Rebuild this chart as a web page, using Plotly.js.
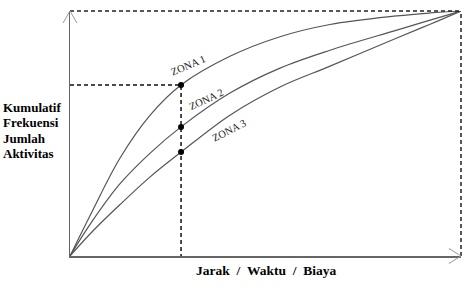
<!DOCTYPE html>
<html><head><meta charset="utf-8">
<script src="https://cdn.plot.ly/plotly-3.0.1.min.js"></script>
<style>html,body{margin:0;padding:0;background:#fff}#chart{width:474px;height:295px}</style>
</head><body><div id="chart"></div>
<script>
// Data (arbitrary 0–100 units on both axes)
const xValues = [0, 5.6, 12.8, 20.5, 28.4, 40.9, 53.7, 66.5, 83.6, 92.1, 100];
const zona1   = [0, 18.0, 40.0, 57.5, 69.8, 81.5, 89.5, 94.5, 98.0, 99.2, 100];
const zona2   = [0, 14.0, 29.5, 42.0, 52.7, 66.5, 76.7, 84.0, 92.2, 96.3, 100];
const zona3   = [0,  9.8, 21.0, 32.3, 42.4, 57.5, 69.0, 77.5, 89.0, 94.6, 100];
const zoneNames = ['ZONA 1', 'ZONA 2', 'ZONA 3'];
const guideX = 28.4;
const yTitleLines = ['Kumulatif', 'Frekuensi', 'Jumlah', 'Aktivitas'];
const xTitle = 'Jarak\u00a0\u00a0/\u00a0\u00a0Waktu\u00a0\u00a0/\u00a0\u00a0Biaya';

const series = [zona1, zona2, zona3];
const gi = xValues.indexOf(guideX);
const guideY = series.map(s => s[gi]);

const curveStyle = {color: '#555', width: 1.2, shape: 'spline', smoothing: 1};
const traces = series.map((s, i) => ({
  type: 'scatter', mode: 'lines', x: xValues, y: s, name: zoneNames[i],
  line: curveStyle, hoverinfo: 'skip', cliponaxis: false
}));
traces.push({
  type: 'scatter', mode: 'lines', x: [0, guideX, guideX], y: [guideY[0], guideY[0], 0],
  line: {color: '#111', width: 1.5, dash: '4px,3px'}, hoverinfo: 'skip', cliponaxis: false
});
traces.push({
  type: 'scatter', mode: 'markers', x: guideY.map(() => guideX), y: guideY,
  marker: {color: '#000', size: 6}, hoverinfo: 'skip', cliponaxis: false
});

const serif = 'Liberation Serif, Times New Roman, serif';
const annotations = [];
const zoneLabelPos = [[30.2, 77.8, -23], [34.8, 63.9, -25], [40.7, 51.2, -27]];
zoneNames.forEach((n, i) => annotations.push({
  x: zoneLabelPos[i][0], y: zoneLabelPos[i][1], xref: 'x', yref: 'y', text: n,
  showarrow: false, textangle: zoneLabelPos[i][2],
  font: {family: serif, size: 10.5, color: '#222'}
}));
yTitleLines.forEach((t, i) => annotations.push({
  x: -0.176, y: (256 - (107 + i * 15.5)) / 245, xref: 'paper', yref: 'paper',
  xanchor: 'left', yanchor: 'middle', showarrow: false, text: '<b>' + t + '</b>',
  font: {family: serif, size: 13, color: '#000'}
}));
annotations.push({
  x: 0.503, y: -0.061, xref: 'paper', yref: 'paper', xanchor: 'center', yanchor: 'middle',
  showarrow: false, text: '<b>' + xTitle + '</b>',
  font: {family: serif, size: 13.5, color: '#000'}
});

const dashLine = {color: '#222', width: 1.5, dash: '4px,3px'};
const arrowLine = {color: '#999', width: 1};
const shapes = [
  {type: 'line', xref: 'paper', yref: 'paper', x0: 0, x1: 1, y0: 1, y1: 1, line: dashLine, layer: 'above'},
  {type: 'line', xref: 'paper', yref: 'paper', x0: 1, x1: 1, y0: 0, y1: 1, line: dashLine, layer: 'above'},
  {type: 'path', xref: 'paper', yref: 'paper', xsizemode: 'pixel', ysizemode: 'pixel', xanchor: 0, yanchor: 1,
   path: 'M-7,-12L0,0L7,-12', line: arrowLine, layer: 'above'},
  {type: 'path', xref: 'paper', yref: 'paper', xsizemode: 'pixel', ysizemode: 'pixel', xanchor: 1, yanchor: 0,
   path: 'M-12,7.5L0,0L-12,-7.5', line: arrowLine, layer: 'above'}
];

const axisBase = {range: [0, 100], showgrid: false, zeroline: false, showticklabels: false,
  ticks: '', showline: true, linecolor: '#666', linewidth: 1.5, fixedrange: true};

const layout = {
  width: 474, height: 295, margin: {l: 70, r: 13, t: 11, b: 39},
  paper_bgcolor: '#fff', plot_bgcolor: '#fff', showlegend: false,
  xaxis: Object.assign({}, axisBase), yaxis: Object.assign({}, axisBase),
  annotations: annotations, shapes: shapes
};
Plotly.newPlot('chart', traces, layout, {staticPlot: true, displayModeBar: false});
</script></body></html>
